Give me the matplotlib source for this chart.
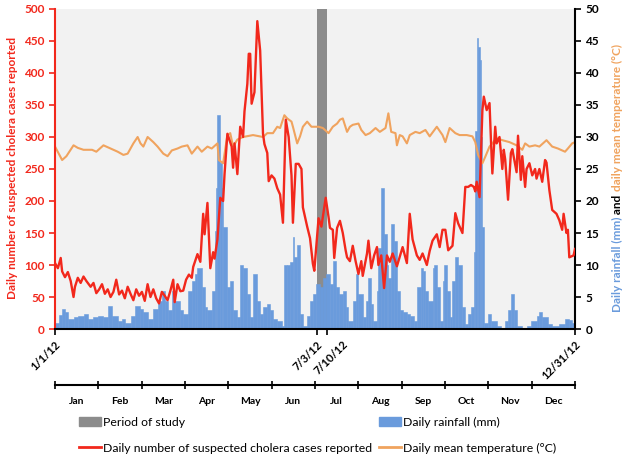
import matplotlib
matplotlib.use('Agg')

import numpy as np
import pandas as pd
import matplotlib.pyplot as plt
import matplotlib.transforms as mtransforms
from matplotlib.patches import Patch
from matplotlib.lines import Line2D

plt.rcParams['font.family'] = ['Lato', 'DejaVu Sans']

# dates
start = pd.Timestamp('2012-01-01')
study_start = pd.Timestamp('2012-07-03')
study_end = pd.Timestamp('2012-07-10')
end = pd.Timestamp('2012-12-31')
date_labels = ['1/1/12', '7/3/12', '7/10/12', '12/31/12']
months = ['Jan', 'Feb', 'Mar', 'Apr', 'May', 'Jun', 'Jul', 'Aug', 'Sep', 'Oct', 'Nov', 'Dec']

# daily suspected cholera cases (day of year, value)
case_day = [0, 2, 4, 5, 7, 9, 11, 13, 14, 16, 18, 20, 22, 25, 27, 29, 31, 33, 35, 37,
            39, 41, 43, 45, 47, 49, 51, 53, 55, 57, 59, 61, 63, 65, 67, 69, 71, 73, 75, 77,
            79, 81, 83, 84, 86, 88, 90, 92, 94, 96, 97, 100, 102, 104, 105, 107, 109, 111, 112, 114,
            116, 118, 119, 121, 124, 125, 126, 128, 130, 132, 133, 135, 136, 137, 138, 140, 142, 144, 146, 147,
            149, 150, 152, 154, 156, 158, 160, 162, 164, 166, 167, 169, 171, 173, 174, 177, 179, 181, 182, 185,
            187, 188, 190, 192, 193, 195, 196, 198, 200, 202, 204, 205, 207, 209, 211, 213, 215, 216, 219, 220,
            222, 224, 226, 227, 229, 231, 233, 235, 237, 240, 242, 244, 247, 249, 251, 254, 256, 258, 261, 263,
            265, 268, 270, 272, 274, 276, 279, 281, 283, 286, 288, 290, 292, 294, 295, 296, 298, 300, 301, 303,
            305, 306, 307, 309, 310, 312, 314, 315, 316, 318, 320, 321, 324, 325, 327, 328, 330, 331, 333, 335,
            337, 338, 340, 342, 344, 345, 347, 349, 352, 354, 356, 357, 359, 360, 361, 364, 365]
cases = [103, 95, 111, 90, 81, 89, 75, 50, 66, 80, 72, 82, 75, 66, 72, 56, 62, 70, 55, 62,
         50, 58, 77, 54, 60, 48, 66, 55, 45, 62, 52, 58, 44, 70, 50, 62, 48, 40, 58, 52,
         45, 60, 77, 42, 70, 59, 60, 77, 85, 80, 97, 117, 105, 180, 148, 197, 95, 120, 110, 140,
         205, 200, 242, 305, 285, 252, 290, 242, 316, 300, 340, 383, 430, 430, 352, 370, 481, 435, 305, 289,
         275, 231, 240, 235, 220, 210, 166, 327, 300, 240, 166, 258, 258, 250, 190, 160, 142, 102, 91, 173,
         160, 175, 205, 175, 158, 155, 111, 158, 169, 150, 123, 112, 106, 130, 106, 86, 106, 83, 118, 138,
         95, 115, 128, 100, 115, 64, 115, 105, 118, 98, 113, 128, 103, 180, 140, 115, 108, 118, 100, 122,
         138, 148, 128, 155, 155, 123, 130, 181, 165, 150, 222, 222, 225, 222, 215, 230, 206, 342, 363, 342,
         353, 295, 243, 316, 290, 300, 250, 280, 265, 202, 275, 281, 245, 302, 233, 270, 222, 250, 259, 240,
         250, 235, 250, 230, 264, 260, 217, 186, 180, 170, 155, 180, 150, 155, 112, 115, 125]

# daily mean temperature (deg C)
temp_day = [0, 5, 8, 13, 16, 20, 26, 29, 34, 39, 44, 48, 51, 55, 58, 60, 62, 65, 69, 72,
            76, 79, 82, 86, 89, 93, 96, 100, 103, 107, 110, 114, 115, 118, 121, 123, 125, 128, 132, 139,
            146, 149, 153, 156, 158, 161, 163, 166, 167, 170, 172, 174, 177, 180, 185, 188, 192, 195, 198, 200,
            202, 205, 207, 209, 213, 215, 218, 221, 225, 228, 232, 234, 236, 239, 240, 242, 244, 247, 249, 253,
            256, 260, 263, 268, 272, 274, 277, 281, 284, 289, 293, 295, 297, 300, 302, 305, 310, 314, 319, 324,
            328, 330, 333, 337, 340, 345, 349, 353, 358, 360, 363, 365]
temp = [28.5, 26.4, 27.0, 28.7, 28.3, 28.0, 28.0, 27.7, 28.7, 28.2, 27.7, 27.2, 27.4, 29.0, 30.0, 29.0, 28.5, 30.0, 29.2, 28.5,
        27.4, 27.0, 27.9, 28.2, 28.5, 28.7, 27.4, 28.5, 27.7, 28.5, 28.2, 29.0, 26.4, 25.9, 30.3, 30.6, 28.5, 29.6, 30.0, 30.3,
        30.0, 30.6, 30.6, 31.6, 31.4, 33.4, 32.9, 32.4, 31.6, 29.0, 30.1, 31.6, 32.4, 31.6, 31.6, 31.4, 30.6, 31.6, 32.1, 32.7,
        32.9, 30.8, 31.6, 31.9, 32.1, 31.1, 30.3, 30.6, 31.4, 30.8, 31.4, 33.7, 30.8, 30.6, 28.7, 30.3, 30.1, 29.0, 30.3, 30.8,
        30.6, 31.1, 30.1, 31.6, 30.3, 29.2, 31.4, 30.6, 30.3, 30.3, 30.1, 29.2, 27.2, 25.9, 26.9, 28.5, 29.8, 29.5, 29.2, 28.7,
        28.0, 29.0, 28.5, 28.7, 28.5, 29.5, 28.5, 28.2, 27.7, 28.2, 29.0, 29.2]

# daily rainfall (mm)
rain_day = [0, 3, 5, 7, 9, 13, 16, 20, 23, 27, 30, 34, 37, 40, 44, 47, 49, 53, 56, 60,
            62, 65, 69, 72, 75, 77, 79, 82, 84, 88, 90, 93, 96, 98, 100, 103, 105, 107, 110, 112,
            113, 114, 116, 117, 118, 121, 123, 125, 128, 130, 132, 135, 137, 139, 142, 144, 146, 149, 151, 153,
            156, 159, 161, 163, 165, 167, 168, 170, 172, 174, 177, 179, 181, 183, 186, 188, 190, 193, 195, 197,
            199, 202, 204, 206, 209, 211, 213, 216, 218, 220, 222, 223, 226, 227, 229, 231, 233, 234, 236, 238,
            240, 242, 244, 247, 249, 252, 254, 257, 258, 260, 262, 265, 266, 268, 270, 272, 273, 275, 277, 279,
            281, 283, 286, 288, 290, 292, 294, 295, 296, 297, 298, 299, 300, 301, 304, 306, 310, 313, 316, 318,
            320, 322, 324, 328, 331, 334, 338, 340, 342, 346, 349, 354, 358, 361, 363]
rain = [1.0, 2.2, 3.1, 2.6, 1.6, 1.8, 2.1, 2.3, 1.6, 1.8, 2.1, 1.8, 3.6, 2.1, 1.3, 1.6, 1.0, 2.1, 3.6, 3.1,
        2.6, 1.6, 3.1, 4.4, 6.0, 4.4, 2.9, 6.0, 4.4, 2.9, 2.3, 6.0, 7.5, 8.6, 9.6, 6.5, 3.4, 2.9, 6.0, 15.3,
        22.0, 33.4, 26.0, 22.0, 15.9, 6.5, 7.5, 2.9, 1.8, 10.0, 9.6, 5.5, 1.8, 8.6, 4.4, 2.3, 3.4, 3.9, 2.9, 1.6,
        1.3, 0.5, 10.0, 10.0, 10.5, 14.3, 11.2, 13.2, 2.3, 0.5, 2.0, 4.4, 5.5, 7.0, 6.5, 8.0, 8.6, 7.0, 10.7, 6.5,
        5.5, 6.0, 3.4, 1.3, 4.4, 8.6, 5.5, 1.8, 4.4, 8.0, 3.9, 1.3, 5.9, 12.7, 22.0, 14.8, 10.0, 8.0, 16.4, 13.8,
        5.9, 2.9, 2.6, 2.3, 2.1, 1.3, 6.5, 9.6, 9.0, 5.9, 4.4, 9.6, 10.0, 6.5, 1.3, 7.5, 10.0, 5.9, 1.8, 7.5,
        11.2, 10.0, 3.4, 0.8, 2.3, 3.4, 12.0, 31.0, 45.4, 44.0, 42.0, 30.0, 16.0, 1.0, 2.3, 1.3, 0.5, 0.0, 1.3, 2.9,
        5.5, 2.9, 0.5, 0.0, 0.5, 1.3, 2.1, 2.6, 1.8, 0.8, 0.5, 0.8, 1.6, 1.4, 1.0]

red = '#f2281c'
orange = '#f0a35e'
blue = '#6a9bdc'
grey = '#8c8c8c'

day = lambda d: (d - start).days

fig = plt.figure(figsize=(6.28, 4.63), dpi=100)
ax1 = fig.add_axes([0.0876, 0.2894, 0.828, 0.6912])
ax2 = ax1.twinx()
ax1.set_zorder(ax2.get_zorder() + 1)
ax1.patch.set_visible(False)
ax2.patch.set_visible(True)
ax2.patch.set_facecolor('#f2f2f2')

# right axis: study period, rainfall, temperature
ax2.axvspan(day(study_start), day(study_end), color=grey, lw=0, zorder=0)
widths = np.diff(rain_day + [366])
ax2.bar(rain_day, rain, width=widths, align='edge', color=blue, edgecolor=blue, lw=0.4, zorder=1)
ax2.plot(temp_day, temp, color=orange, lw=1.5, zorder=2)
ax2.set_ylim(0, 50)
ax2.set_yticks(range(0, 51, 5))
ax2.tick_params(axis='y', colors='black', labelsize=8.5, length=4, width=1.2)
for t in ax2.get_yticklabels():
    t.set_fontweight('bold')

# left axis: cholera cases
ax1.plot(case_day, cases, color=red, lw=1.7)
ax1.set_ylim(0, 500)
ax1.set_yticks(range(0, 501, 50))
ax1.tick_params(axis='y', colors=red, labelsize=8.5, length=4, width=1.2)
for t in ax1.get_yticklabels():
    t.set_fontweight('bold')

ax1.set_xlim(0, 365)
ax1.set_xticks([day(d) for d in [start, study_start, study_end, end]])
ax1.set_xticklabels(date_labels, rotation=45, ha='right', rotation_mode='anchor',
                    fontsize=8, fontweight='bold')
ax1.tick_params(axis='x', length=4, width=1.2, pad=3)
# Excel pushes the crowded 7/10/12 label to the right
lab = ax1.get_xticklabels()[2]
lab.set_transform(lab.get_transform() + mtransforms.ScaledTranslation(0.15, 0, fig.dpi_scale_trans))

for a in (ax1, ax2):
    a.spines['top'].set_visible(False)
ax1.spines['right'].set_visible(False)
ax2.spines['left'].set_visible(False)
ax1.spines['left'].set_color(red)
ax1.spines['left'].set_linewidth(1.5)
ax2.spines['right'].set_linewidth(1.5)
ax1.spines['bottom'].set_linewidth(1.5)
ax2.spines['bottom'].set_visible(False)

fig.text(0.02, 0.637, 'Daily number of suspected cholera cases reported', rotation=90,
         color=red, fontsize=8.5, fontweight='bold', ha='center', va='center')

# multicolour right label
fig.canvas.draw()
r = fig.canvas.get_renderer()
y = 1 - 312 / 463
for s, c in [('Daily rainfall (mm)', blue), (' and ', 'black'), ('daily mean temperature (°C)', orange)]:
    t = fig.text(0.984, y, s, rotation=90, color=c, fontsize=8.5, fontweight='bold',
                 ha='center', va='bottom')
    y += t.get_window_extent(r).height / fig.bbox.height

# month axis
axm = fig.add_axes([0.0876, 1 - 385 / 463, 0.828, 0.0])
axm.set_xlim(0, 12)
axm.set_ylim(0, 1)
axm.set_xticks(range(13))
axm.set_xticklabels([])
axm.set_xticks(np.arange(12) + 0.5, minor=True)
axm.set_xticklabels(months, minor=True, fontsize=7.5, fontweight='bold')
axm.tick_params(axis='x', which='major', direction='inout', length=6, width=1.2)
axm.tick_params(axis='x', which='minor', length=0, pad=9)
axm.set_yticks([])
for s in ['top', 'left', 'right']:
    axm.spines[s].set_visible(False)
axm.spines['bottom'].set_linewidth(1.5)

handles = [Patch(color=grey), Line2D([], [], color=red, lw=2),
           Patch(color=blue), Line2D([], [], color=orange, lw=2)]
labels = ['Period of study', 'Daily number of suspected cholera cases reported',
          'Daily rainfall (mm)', 'Daily mean temperature (°C)']
fig.legend(handles, labels, ncol=2, frameon=False, loc='upper left',
           bbox_to_anchor=(0.108, 1 - 406 / 463), fontsize=8.8, handlelength=1.8,
           handletextpad=0.2, columnspacing=0.5, labelspacing=1.2)

fig.savefig('out.png', dpi=100)
